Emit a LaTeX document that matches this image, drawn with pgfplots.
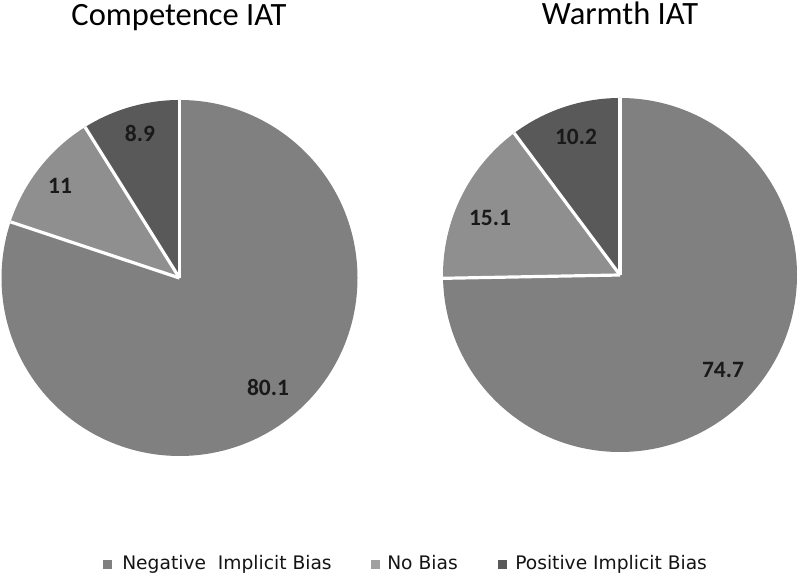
\documentclass[border=0pt]{standalone}
\usepackage{pgfplots}
\usepackage{pgfplotstable}
\pgfplotsset{compat=1.18}
\usepackage{fontspec}
\setmainfont{Carlito}
\newfontfamily\legfont{DejaVu Sans}
\definecolor{negc}{HTML}{808080}
\definecolor{nobc}{HTML}{8F8F8F}
\definecolor{posc}{HTML}{595959}

\pgfplotstableread{
cat comp warm
neg 80.1 74.7
nob 11.0 15.1
pos 8.9 10.2
}\piedata

\begin{document}
\begin{tikzpicture}
\useasboundingbox (0,0) rectangle (600pt,432.75pt);
\pgfplotstablegetelem{0}{comp}\of\piedata \let\cNeg\pgfplotsretval
\pgfplotstablegetelem{1}{comp}\of\piedata \let\cNob\pgfplotsretval
\pgfplotstablegetelem{2}{comp}\of\piedata \let\cPos\pgfplotsretval
\pgfplotstablegetelem{0}{warm}\of\piedata \let\wNeg\pgfplotsretval
\pgfplotstablegetelem{1}{warm}\of\piedata \let\wNob\pgfplotsretval
\pgfplotstablegetelem{2}{warm}\of\piedata \let\wPos\pgfplotsretval
\pgfmathsetmacro\cA{90-3.6*\cNeg}
\pgfmathsetmacro\cB{\cA-3.6*\cNob}
\pgfmathsetmacro\cC{\cB-3.6*\cPos}
\pgfmathsetmacro\wA{90-3.6*\wNeg}
\pgfmathsetmacro\wB{\wA-3.6*\wNob}
\pgfmathsetmacro\wC{\wB-3.6*\wPos}
\def\Ra{133.5pt}
\def\Rb{132.75pt}
\begin{axis}[
  at={(0,0)}, anchor=south west,
  width=600pt, height=432.75pt, scale only axis,
  xmin=0, xmax=800, ymin=0, ymax=577,
  hide axis, clip=false]
% Competence pie
\fill[negc] (axis cs:179.5,299) -- ++(90:\Ra) arc[start angle=90, end angle=\cA, radius=\Ra] -- cycle;
\fill[nobc] (axis cs:179.5,299) -- ++(\cA:\Ra) arc[start angle=\cA, end angle=\cB, radius=\Ra] -- cycle;
\fill[posc] (axis cs:179.5,299) -- ++(\cB:\Ra) arc[start angle=\cB, end angle=\cC, radius=\Ra] -- cycle;
\draw[white, line width=2.4pt] (axis cs:179.5,299) -- ++(90:\Ra);
\draw[white, line width=2.4pt] (axis cs:179.5,299) -- ++(\cA:\Ra);
\draw[white, line width=2.4pt] (axis cs:179.5,299) -- ++(\cB:\Ra);
% Warmth pie
\fill[negc] (axis cs:620,302) -- ++(90:\Rb) arc[start angle=90, end angle=\wA, radius=\Rb] -- cycle;
\fill[nobc] (axis cs:620,302) -- ++(\wA:\Rb) arc[start angle=\wA, end angle=\wB, radius=\Rb] -- cycle;
\fill[posc] (axis cs:620,302) -- ++(\wB:\Rb) arc[start angle=\wB, end angle=\wC, radius=\Rb] -- cycle;
\draw[white, line width=2.4pt] (axis cs:620,302) -- ++(90:\Rb);
\draw[white, line width=2.4pt] (axis cs:620,302) -- ++(\wA:\Rb);
\draw[white, line width=2.4pt] (axis cs:620,302) -- ++(\wB:\Rb);
% data labels
\begin{scope}[every node/.style={font=\bfseries\fontsize{17.6}{20}\selectfont, text=black!90}]
\node at (axis cs:268,190) {80.1};
\node at (axis cs:60,391) {11};
\node at (axis cs:140,444) {8.9};
\node at (axis cs:723,207) {74.7};
\node at (axis cs:490,359) {15.1};
\node at (axis cs:576,440) {10.2};
\end{scope}
% titles
\node[anchor=base, font=\fontsize{24.4}{28}\selectfont] at (axis cs:179,551) {Competence IAT};
\node[anchor=base, font=\fontsize{24.4}{28}\selectfont] at (axis cs:620,552) {Warmth IAT};
% legend
\fill[negc] (axis cs:103,8) rectangle (axis cs:112,17);
\fill[nobc!85!white] (axis cs:371,8) rectangle (axis cs:380,17);
\fill[posc] (axis cs:498,8) rectangle (axis cs:507,17);
\begin{scope}[every node/.style={anchor=base west, inner sep=0pt, font=\legfont\fontsize{14}{16}\selectfont, text=black!92}]
\node at (axis cs:122,7) {Negative\ \ Implicit Bias};
\node at (axis cs:387,7) {No Bias};
\node at (axis cs:515,7) {Positive Implicit Bias};
\end{scope}
\end{axis}
\end{tikzpicture}
\end{document}
